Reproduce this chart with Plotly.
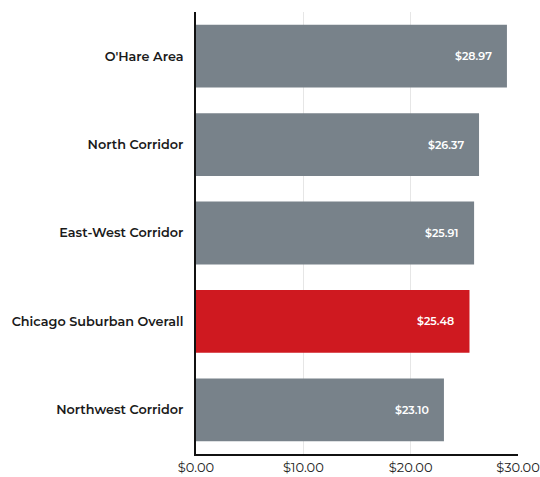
import plotly.graph_objects as go

categories = ["O'Hare Area", "North Corridor", "East-West Corridor", "Chicago Suburban Overall", "Northwest Corridor"]
values = [28.97, 26.37, 25.91, 25.48, 23.10]
colors = ["#78828A", "#78828A", "#78828A", "#CF1920", "#78828A"]
tick_vals = [0, 10, 20, 30]
tick_text = ["$0.00", "$10.00", "$20.00", "$30.00"]

FONT = "Montserrat, 'Noto Sans', 'Open Sans', sans-serif"

fig = go.Figure()
fig.add_trace(go.Bar(
    y=categories, x=values, orientation="h",
    marker=dict(color=colors, line=dict(width=0)),
    hoverinfo="skip",
))

for c, v in zip(categories, values):
    fig.add_annotation(
        x=v, y=c, text=f"${v:.2f}", showarrow=False,
        xanchor="right", yanchor="middle", xshift=-13,
        font=dict(family=FONT, size=11, color="white", weight=600),
    )

fig.update_layout(
    width=540, height=477,
    margin=dict(l=196, r=22, t=12, b=23),
    paper_bgcolor="white", plot_bgcolor="white",
    bargap=0.29,
    showlegend=False,
    font=dict(family=FONT, color="#1a1a1a"),
)
fig.update_xaxes(
    range=[0, 30], tickvals=tick_vals, ticktext=tick_text,
    showgrid=True, gridcolor="#e6e6e6", gridwidth=1,
    showline=True, linecolor="#111111", linewidth=2,
    zeroline=False, ticks="", automargin=False,
    tickfont=dict(family=FONT, size=13, color="#222222"),
)
fig.update_yaxes(
    categoryorder="array", categoryarray=categories, autorange="reversed",
    showgrid=False, showline=True, linecolor="#111111", linewidth=2,
    ticks="", automargin=False, ticklabelstandoff=8,
    tickfont=dict(family=FONT, size=12.8, color="#1a1a1a", weight=600),
)

fig.write_html("out.html")
